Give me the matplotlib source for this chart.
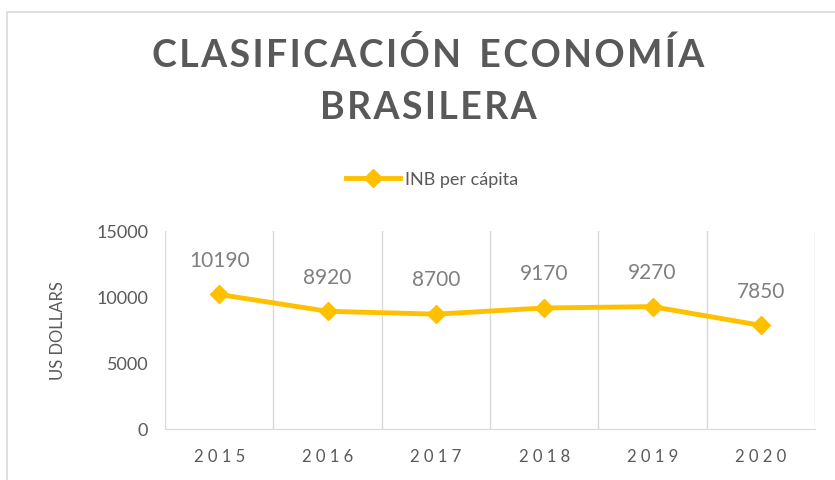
import matplotlib
matplotlib.use("Agg")
import matplotlib.pyplot as plt
from matplotlib.patches import Rectangle
from matplotlib.lines import Line2D

years = ["2015", "2016", "2017", "2018", "2019", "2020"]
inb = [10190, 8920, 8700, 9170, 9270, 7850]
yticks = [0, 5000, 10000, 15000]

plt.rcParams['font.family'] = ['Lato', 'DejaVu Sans']
gray = "#595959"
gold = "#FFC000"


def spaced(s, sep="\u200a"):
    return sep.join(s)


fig = plt.figure(figsize=(8.35, 4.81), dpi=100)

# chart frame
fig.patches.append(Rectangle((7 / 835, -0.1), 1.2, 1 - 13 / 481 + 0.1,
                             transform=fig.transFigure, fill=False,
                             edgecolor="#d9d9d9", linewidth=1.2))

ax = fig.add_axes([165 / 835, 1 - 430 / 481, 650 / 835, 198 / 481])
x = list(range(len(years)))
ax.plot(x, inb, color=gold, linewidth=3.5, marker="D", markersize=9,
        label="INB per cápita")
for xi, v in zip(x, inb):
    ax.annotate(str(v), (xi, v), xytext=(0, 25), textcoords="offset points",
                ha="center", va="center", fontsize=15, color="#7f7f7f")

ax.set_xlim(-0.5, len(years) - 0.5)
ax.set_ylim(0, 15000)
ax.set_yticks(yticks)
ax.set_yticklabels([str(t) for t in yticks], fontsize=13, color=gray)
ax.set_xticks(x)
ax.set_xticklabels([" ".join(y) for y in years], fontsize=12, color=gray)
ax.tick_params(length=0, axis="y", pad=12)
ax.tick_params(length=0, axis="x", pad=14)
for b in range(len(years) + 1):
    ax.axvline(b - 0.5, color="#d9d9d9", linewidth=1, zorder=0)
for s in ["top", "right", "left"]:
    ax.spines[s].set_visible(False)
ax.spines["bottom"].set_color("#d9d9d9")
ax.set_ylabel("US DOLLARS", fontsize=12, color=gray, labelpad=22)

fig.text(428 / 835, 1 - 55 / 481, spaced("CLASIFICACIÓN") + "  " + spaced("ECONOMÍA"),
         ha="center", va="center", fontsize=27, fontweight="bold", color=gray)
fig.text(428 / 835, 1 - 108 / 481, spaced("BRASILERA"),
         ha="center", va="center", fontsize=27, fontweight="bold", color=gray)

h = Line2D([], [], color=gold, linewidth=3.5, marker="D", markersize=9)
fig.legend([h], ["INB per cápita"], loc="center", bbox_to_anchor=(432 / 835, 1 - 180 / 481),
           frameon=False, fontsize=13, labelcolor=gray, handlelength=3, handletextpad=0.3)

fig.savefig("out.png", dpi=100)
